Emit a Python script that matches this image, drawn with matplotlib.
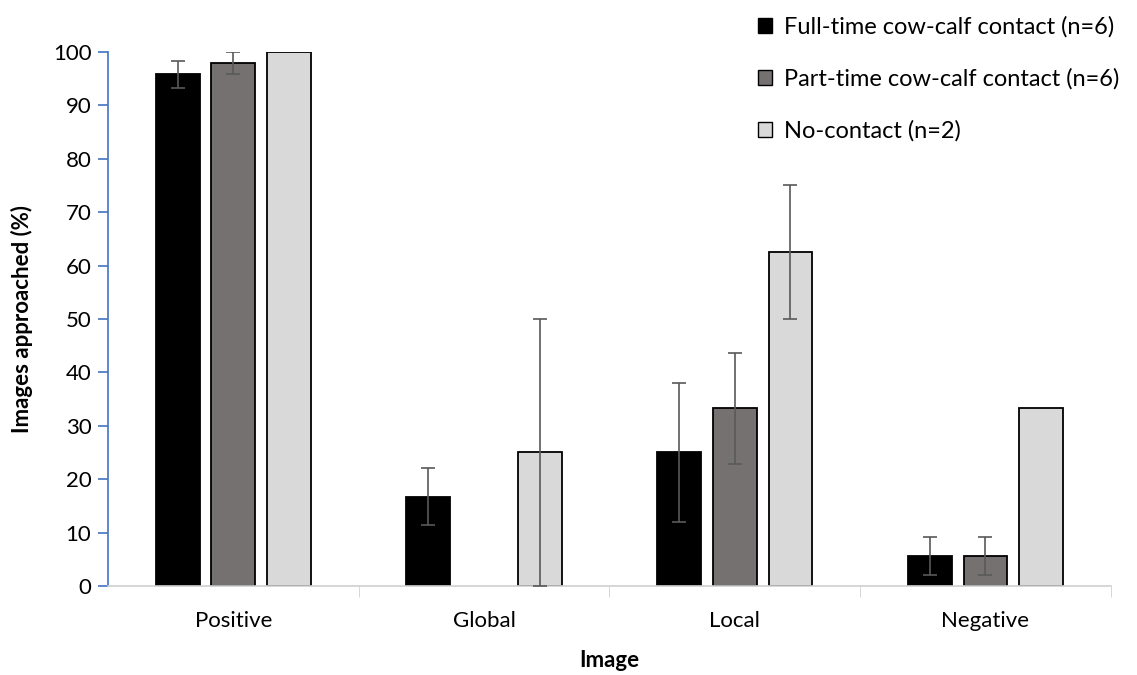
import numpy as np
import matplotlib.pyplot as plt
from matplotlib.patches import Patch

plt.rcParams['font.family'] = ['Lato', 'DejaVu Sans']

categories = ['Positive', 'Global', 'Local', 'Negative']
series = ['Full-time cow-calf contact (n=6)', 'Part-time cow-calf contact (n=6)', 'No-contact (n=2)']
full_time = [95.8, 16.7, 25.0, 5.6]
full_err = [2.6, 5.3, 13.0, 3.6]
part_time = [97.9, 0.0, 33.3, 5.6]
part_err = [2.1, 0.0, 10.4, 3.6]
no_contact = [100.0, 25.0, 62.5, 33.3]
no_err = [0.0, 25.0, 12.5, 0.0]

colors = ['#000000', '#767171', '#d9d9d9']
values = [full_time, part_time, no_contact]
errors = [full_err, part_err, no_err]

fig = plt.figure(figsize=(11.37, 6.75), dpi=100)
ax = fig.add_axes([0.095, 0.132, 0.882, 0.791])

x = np.arange(len(categories))
w = 0.175
offs = [-0.222, 0, 0.222]
for i in range(3):
    vals = np.array(values[i])
    errs = np.array(errors[i])
    show = vals > 0
    ax.bar(x[show] + offs[i], vals[show], w, color=colors[i], edgecolor='black', linewidth=1.3, zorder=2)
    has_err = errs > 0
    ax.errorbar(x[has_err] + offs[i], vals[has_err], yerr=errs[has_err], fmt='none',
                ecolor='#595959', elinewidth=1.2, capsize=5, capthick=1.2, zorder=3)

ax.set_xlim(-0.5, 3.5)
ax.set_ylim(0, 100)
ax.set_yticks(range(0, 101, 10))
ax.set_xticks(x)
ax.set_xticklabels(categories, fontsize=16)
ax.set_xticks([0.5, 1.5, 2.5, 3.5], minor=True)
ax.tick_params(axis='x', which='major', length=0, pad=18)
ax.tick_params(axis='x', which='minor', length=8, color='#d0d0d0')
ax.tick_params(axis='y', labelsize=16, color='#4472c4', length=7, width=1.2, pad=5)

for s in ['top', 'right']:
    ax.spines[s].set_visible(False)
ax.spines['left'].set_color('#4472c4')
ax.spines['left'].set_linewidth(1.2)
ax.spines['bottom'].set_color('#d0d0d0')
ax.spines['bottom'].set_linewidth(1.2)

ax.set_ylabel('Images approached (%)', fontsize=16, fontweight='bold', labelpad=14)
ax.set_xlabel('Image', fontsize=16, fontweight='bold', labelpad=14)

handles = [Patch(facecolor=colors[i], edgecolor='black', linewidth=1) for i in range(3)]
fig.legend(handles, series, loc='upper left', bbox_to_anchor=(0.648, 1.008), frameon=False,
           fontsize=17, handlelength=0.6, handleheight=0.6, handletextpad=0.5, labelspacing=1.3)

fig.savefig('out.png', dpi=100)
